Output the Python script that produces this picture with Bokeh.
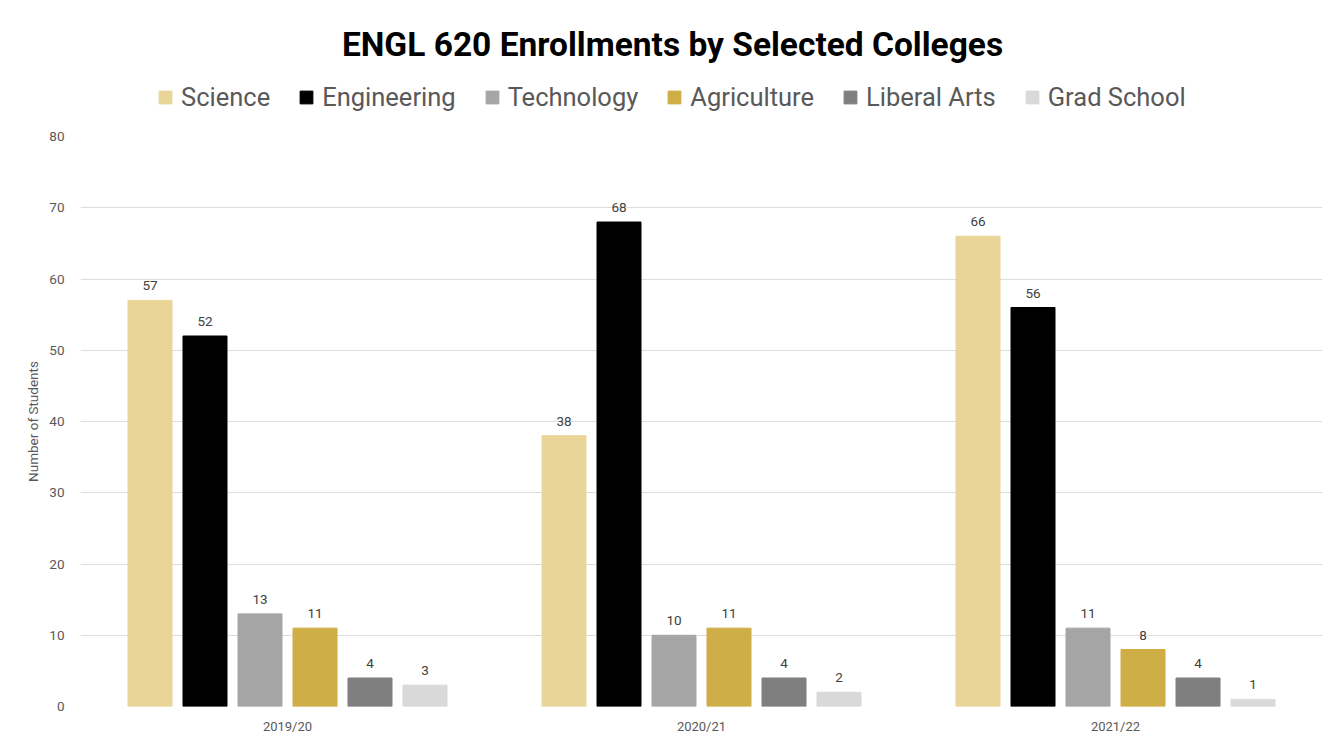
from bokeh.plotting import figure
from bokeh.models import ColumnDataSource, FactorRange, Legend, LegendItem, LabelSet, Label, Range1d
from bokeh.layouts import column
from bokeh.core.properties import value
from bokeh.transform import dodge
from bokeh.embed import file_html
from bokeh.resources import INLINE

years = ["2019/20", "2020/21", "2021/22"]
series = ["Science", "Engineering", "Technology", "Agriculture", "Liberal Arts", "Grad School"]
science = [57, 38, 66]
engineering = [52, 68, 56]
technology = [13, 10, 11]
agriculture = [11, 11, 8]
liberal_arts = [4, 4, 4]
grad_school = [3, 2, 1]
values = [science, engineering, technology, agriculture, liberal_arts, grad_school]
colors = ["#E9D597", "#000000", "#A5A5A5", "#CFAD47", "#7F7F7F", "#D9D9D9"]
y_ticks = [0, 10, 20, 30, 40, 50, 60, 70, 80]
title_text = "ENGL 620 Enrollments by Selected Colleges"

HEADER_H = 126
LEFT, RIGHT = 80, 19

# Header figure: title + legend (frame aligned with main chart frame)
h = figure(width=1341, height=HEADER_H, x_range=Range1d(LEFT, 1341 - RIGHT), y_range=Range1d(0, HEADER_H),
           output_backend="svg", toolbar_location=None, x_axis_type=None, y_axis_type=None,
           min_border_left=LEFT, min_border_right=RIGHT, min_border_top=0, min_border_bottom=0)
h.outline_line_color = None
h.xgrid.visible = False
h.ygrid.visible = False

items = []
for name, col in zip(series, colors):
    r = h.vbar(x=[-5000], bottom=[-5000], top=[-4999], width=1, fill_color=col, line_color=col)
    items.append(LegendItem(label=name, renderers=[r]))

legend = Legend(items=items, orientation="horizontal", location=(77, 14),
                label_text_font="Roboto", label_text_font_size="25.5px", label_text_color="#595959",
                glyph_width=16, glyph_height=16, spacing=28, label_standoff=8,
                border_line_color=None, background_fill_alpha=0, margin=0, padding=0)
h.add_layout(legend, "center")

title = Label(x=672, y=HEADER_H - 44, text=title_text,
              text_align="center", text_baseline="middle", text_font="Roboto",
              text_font_size="33.5px", text_font_style="bold", text_color="#000000")
h.add_layout(title)

# Main chart
p = figure(width=1341, height=742 - HEADER_H,
           x_range=FactorRange(factors=years, range_padding=0, factor_padding=0),
           y_range=Range1d(0, 80), output_backend="svg", toolbar_location=None,
           min_border_left=LEFT, min_border_right=RIGHT, min_border_top=10, min_border_bottom=36)

step = 55 / 414
width = 44 / 414
for i, (name, vals, col) in enumerate(zip(series, values, colors)):
    src = ColumnDataSource(dict(year=years, val=vals, lbl=[str(v) for v in vals]))
    off = (i - 2.5) * step
    p.vbar(x=dodge("year", off, range=p.x_range), top="val", width=width, source=src,
           fill_color=col, line_color=col)
    ls = LabelSet(x=dodge("year", off, range=p.x_range), y="val", text="lbl", source=src,
                  text_align="center", text_baseline="bottom", y_offset=10,
                  text_font=value("Roboto"), text_font_size=value("13.5px"), text_color="#404040")
    p.add_layout(ls)

p.outline_line_color = None
p.xgrid.grid_line_color = None
p.ygrid.grid_line_color = "#DDDDDD"
p.ygrid.ticker = y_ticks
p.yaxis.ticker = y_ticks
p.yaxis.axis_line_color = None
p.yaxis.major_tick_line_color = None
p.yaxis.minor_tick_line_color = None
p.yaxis.major_label_text_font = "Roboto"
p.yaxis.major_label_text_font_size = "13.5px"
p.yaxis.major_label_text_color = "#595959"
p.yaxis.axis_label = "Number of Students"
p.yaxis.axis_label_text_font = "Roboto"
p.yaxis.axis_label_text_font_style = "normal"
p.yaxis.axis_label_text_font_size = "13.5px"
p.yaxis.axis_label_text_color = "#595959"
p.yaxis.major_label_standoff = 10
p.xaxis.axis_line_color = None
p.xaxis.major_tick_line_color = None
p.xaxis.major_label_text_font = "Roboto"
p.xaxis.major_label_text_font_size = "13px"
p.xaxis.major_label_text_color = "#595959"
p.xaxis.major_label_standoff = 6

layout = column(h, p, spacing=0)
open("out.html", "w").write(file_html(layout, INLINE))
